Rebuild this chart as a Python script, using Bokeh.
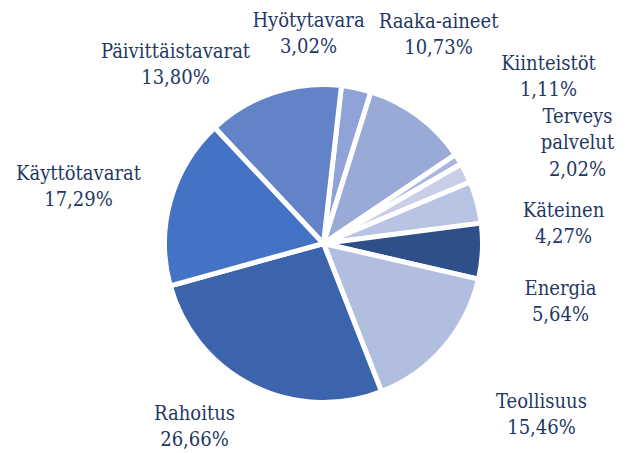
import math
from bokeh.plotting import figure
from bokeh.models import Range1d, ColumnDataSource, Label
from bokeh.embed import file_html
from bokeh.resources import INLINE

# ---- data ----
categories = ["Hyötytavara", "Raaka-aineet", "Kiinteistöt", "Terveys\npalvelut",
              "Käteinen", "Energia", "Teollisuus", "Rahoitus",
              "Käyttötavarat", "Päivittäistavarat"]
shares = [3.02, 10.73, 1.11, 2.02, 4.27, 5.64, 15.46, 26.66, 17.29, 13.80]
colors = ["#8fa3d7", "#9aaad6", "#abb6de", "#c9cfe9", "#b9c3e3",
          "#2f4f8b", "#b2bee0", "#3c64ad", "#4472c4", "#6283c8"]

# ---- layout (screen pixels, y downward) ----
W, H = 630, 453
cx, cy = 323, 243
radius = 159
start_offset = 6.5  # degrees clockwise from 12 o'clock
label_pos = [(308, 19), (438, 20), (548, 62), (577, 115), (563, 209),
             (560, 287), (541, 400), (194, 412), (78, 172), (175, 50)]
line_gap = 26.5
text_color = "#1f3864"

p = figure(width=W, height=H, output_backend="svg", toolbar_location=None,
           x_range=Range1d(0, W), y_range=Range1d(0, H), min_border=0)
p.axis.visible = False
p.grid.visible = False
p.outline_line_color = None
p.background_fill_color = "white"

total = sum(shares)
starts, ends = [], []
acc = 0.0
for s in shares:
    a0 = start_offset + acc / total * 360.0
    a1 = start_offset + (acc + s) / total * 360.0
    starts.append(math.radians(90.0 - a1))
    ends.append(math.radians(90.0 - a0))
    acc += s

src = ColumnDataSource(dict(x=[cx] * len(shares), y=[H - cy] * len(shares),
                            start=starts, end=ends, color=colors))
p.wedge(x="x", y="y", radius=radius, start_angle="start", end_angle="end",
        fill_color="color", line_color="white", line_width=5, source=src)

for name, v, (lx, ly) in zip(categories, shares, label_pos):
    lines = name.split("\n") + [f"{v:.2f}".replace(".", ",") + "%"]
    for i, ln in enumerate(lines):
        p.add_layout(Label(x=lx, y=H - (ly + i * line_gap), text=ln,
                           text_font="DejaVu Serif Condensed, DejaVu Serif",
                           text_font_size="20px",
                           text_color=text_color, text_align="center",
                           text_baseline="middle"))

open("out.html", "w").write(file_html(p, INLINE))
